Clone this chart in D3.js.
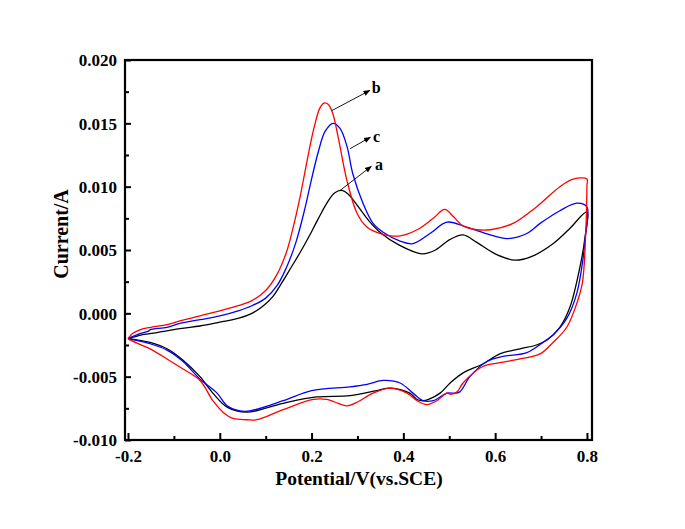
<!DOCTYPE html>
<html><head><meta charset="utf-8">
<script src="https://cdn.jsdelivr.net/npm/d3@7"></script>
<style>
html,body{margin:0;padding:0;background:#fff;}
svg{display:block;}
text{font-family:"Liberation Serif","Times New Roman",serif;font-weight:bold;fill:#000;}
</style></head>
<body>
<svg id="chart" width="685" height="529"></svg>
<script>
// ---- data (Potential V, Current A), traversal order of each CV loop ----
const curveA = [ // black
[-0.2,-0.0020],[-0.17,-0.0017],[-0.152,-0.0016],[-0.087,-0.0012],[-0.043,-0.0010],[0.0,-0.0007],[0.04,-0.0004],[0.07,0.0000],[0.095,0.0006],[0.115,0.0013],[0.135,0.0024],[0.155,0.0036],[0.175,0.0048],[0.195,0.0061],[0.215,0.0075],[0.235,0.0088],[0.25,0.0095],[0.265,0.0097],[0.28,0.0094],[0.3,0.0085],[0.325,0.0073],[0.349,0.0064],[0.39,0.0054],[0.44,0.0047],[0.47,0.0050],[0.5,0.0058],[0.53,0.0062],[0.56,0.0056],[0.6,0.0047],[0.643,0.0042],[0.68,0.0045],[0.726,0.0055],[0.76,0.0066],[0.8,0.0080],
[0.795,0.0058],[0.785,0.0037],[0.763,0.0005],[0.741,-0.0011],[0.713,-0.0021],[0.69,-0.0025],[0.654,-0.0028],[0.61,-0.0032],[0.573,-0.0040],[0.53,-0.0047],[0.502,-0.0055],[0.48,-0.0063],[0.455,-0.0068],[0.443,-0.0069],[0.43,-0.0068],[0.414,-0.0063],[0.371,-0.0059],[0.342,-0.0061],[0.284,-0.0065],[0.211,-0.0066],[0.138,-0.0071],[0.059,-0.0078],[0.016,-0.0074],[-0.015,-0.0063],[-0.043,-0.0050],[-0.08,-0.0037],[-0.115,-0.0028],[-0.152,-0.0023],[-0.2,-0.0020]
];
const curveB = [ // red
[-0.2,-0.0020],[-0.19,-0.0016],[-0.174,-0.0013],[-0.15,-0.0011],[-0.115,-0.0009],[-0.087,-0.0006],[-0.043,-0.0002],[0.0,0.0002],[0.04,0.0006],[0.07,0.0010],[0.1,0.0018],[0.125,0.0031],[0.145,0.0048],[0.16,0.0068],[0.175,0.0092],[0.19,0.0120],[0.205,0.0146],[0.218,0.0162],[0.227,0.0166],[0.236,0.0165],[0.246,0.0158],[0.258,0.0139],[0.277,0.0105],[0.299,0.0079],[0.321,0.0068],[0.35,0.0063],[0.39,0.0061],[0.43,0.0066],[0.465,0.0075],[0.49,0.0082],[0.51,0.0076],[0.53,0.0069],[0.56,0.0066],[0.59,0.0066],[0.639,0.0071],[0.69,0.0084],[0.741,0.0100],[0.77,0.0106],[0.8,0.0106],
[0.8,0.0101],[0.797,0.0060],[0.79,0.0024],[0.778,0.0008],[0.756,-0.0011],[0.726,-0.0023],[0.698,-0.0032],[0.654,-0.0036],[0.61,-0.0039],[0.573,-0.0042],[0.53,-0.0055],[0.517,-0.0062],[0.503,-0.0064],[0.495,-0.0063],[0.473,-0.0069],[0.451,-0.0072],[0.43,-0.0069],[0.408,-0.0063],[0.371,-0.0059],[0.334,-0.0063],[0.30,-0.0070],[0.277,-0.0073],[0.25,-0.0070],[0.233,-0.0068],[0.204,-0.0068],[0.138,-0.0076],[0.081,-0.0084],[0.059,-0.0084],[0.029,-0.0083],[0.007,-0.0078],[-0.015,-0.0069],[-0.043,-0.0053],[-0.08,-0.0044],[-0.115,-0.0036],[-0.152,-0.0028],[-0.19,-0.0022],[-0.2,-0.0020]
];
const curveC = [ // blue
[-0.2,-0.0020],[-0.174,-0.0016],[-0.155,-0.0014],[-0.152,-0.0013],[-0.115,-0.0011],[-0.087,-0.0008],[-0.043,-0.0005],[0.0,-0.0002],[0.04,0.0002],[0.07,0.0006],[0.1,0.0012],[0.125,0.0022],[0.145,0.0036],[0.165,0.0055],[0.185,0.0082],[0.2,0.0106],[0.215,0.0128],[0.23,0.0144],[0.247,0.0150],[0.262,0.0146],[0.277,0.0132],[0.29,0.0110],[0.312,0.0087],[0.334,0.0071],[0.356,0.0064],[0.393,0.0057],[0.421,0.0055],[0.458,0.0063],[0.495,0.0072],[0.538,0.0068],[0.589,0.0062],[0.626,0.0059],[0.669,0.0063],[0.698,0.0071],[0.741,0.0081],[0.778,0.0087],[0.8,0.0084],
[0.797,0.0063],[0.791,0.0042],[0.778,0.0016],[0.756,-0.0004],[0.726,-0.0017],[0.704,-0.0023],[0.669,-0.0031],[0.617,-0.0034],[0.582,-0.0038],[0.545,-0.0050],[0.523,-0.0062],[0.51,-0.0063],[0.495,-0.0063],[0.465,-0.0069],[0.443,-0.0069],[0.421,-0.0063],[0.393,-0.0055],[0.356,-0.0053],[0.321,-0.0056],[0.284,-0.0058],[0.2,-0.0061],[0.138,-0.0069],[0.066,-0.0077],[0.044,-0.0077],[0.016,-0.0073],[-0.006,-0.0063],[-0.043,-0.0052],[-0.08,-0.0038],[-0.115,-0.0029],[-0.152,-0.0024],[-0.2,-0.0020]
];
const seriesNames = ["a","b","c"];
const seriesColors = ["#000000","#ff0000","#0000ff"];
const xTicks = [-0.2,0.0,0.2,0.4,0.6,0.8];
const xTickLabels = ["-0.2","0.0","0.2","0.4","0.6","0.8"];
const yTicks = [-0.010,-0.005,0.000,0.005,0.010,0.015,0.020];
const yTickLabels = ["-0.010","-0.005","0.000","0.005","0.010","0.015","0.020"];
const xMinorTicks = [-0.1,0.1,0.3,0.5,0.7];
const yMinorTicks = [-0.0075,-0.0025,0.0025,0.0075,0.0125,0.0175];
const xTitle = "Potential/V(vs.SCE)";
const yTitle = "Current/A";
// annotation arrows: [fromV, fromI, toV, toI], label anchor [V, I]
const arrowFrom = {a:[0.262,0.0097], b:[0.244,0.0160], c:[0.284,0.0130]};
const arrowTo   = {a:[0.330,0.0116], b:[0.327,0.0176], c:[0.328,0.0139]};
const labelAt   = {a:[0.338,0.0113], b:[0.331,0.0174], c:[0.334,0.0135]};

// ---- layout ----
const L=125, R=592, T=60, B=440;
const svg = d3.select("#chart");
const x = d3.scaleLinear().domain([-0.2065,0.811]).range([L,R]);
const y = d3.scaleLinear().domain([-0.010,0.020]).range([B,T]);

svg.append("defs").append("marker").attr("id","ah").attr("viewBox","0 0 10 10")
  .attr("refX",9).attr("refY",5).attr("markerWidth",7).attr("markerHeight",7)
  .attr("markerUnits","userSpaceOnUse").attr("orient","auto")
  .append("path").attr("d","M0,1 L10,5 L0,9 Z").attr("fill","#000");

// curves
const line = d3.line().x(d=>x(d[0])).y(d=>y(d[1])).curve(d3.curveCatmullRom.alpha(0.5));
const curves = [curveA, curveB, curveC];
[0,2,1].forEach(i=>{
  svg.append("path").datum(curves[i]).attr("d",line)
    .attr("fill","none").attr("stroke",seriesColors[i]).attr("stroke-width",1.3)
    .attr("stroke-linejoin","round");
});

// axes
const fmtX = (d)=>xTickLabels[xTicks.indexOf(d)];
const fmtY = (d)=>yTickLabels[yTicks.indexOf(d)];
const gx = svg.append("g").attr("transform",`translate(0,${B})`)
  .call(d3.axisBottom(x).tickValues(xTicks).tickFormat(fmtX).tickSizeInner(-7).tickSizeOuter(0).tickPadding(10));
const gxm = svg.append("g").attr("transform",`translate(0,${B})`)
  .call(d3.axisBottom(x).tickValues(xMinorTicks).tickFormat("").tickSizeInner(-4).tickSizeOuter(0));
const gy = svg.append("g").attr("transform",`translate(${L},0)`)
  .call(d3.axisLeft(y).tickValues(yTicks).tickFormat(fmtY).tickSizeInner(-6).tickSizeOuter(0).tickPadding(8));
const gym = svg.append("g").attr("transform",`translate(${L},0)`)
  .call(d3.axisLeft(y).tickValues(yMinorTicks).tickFormat("").tickSizeInner(-4).tickSizeOuter(0));
[gx,gxm,gy,gym].forEach(g=>{
  g.select(".domain").remove();
  g.selectAll(".tick line").attr("stroke","#000").attr("stroke-width",2);
  g.selectAll("text").attr("font-family",'"Liberation Serif",serif').attr("font-weight","bold").attr("font-size",17).attr("fill","#000");
});
gy.selectAll("text").attr("dy","0.35em");
gx.selectAll("text").attr("dy","0.71em");

// frame
svg.append("rect").attr("x",L).attr("y",T).attr("width",R-L).attr("height",B-T)
  .attr("fill","none").attr("stroke","#000").attr("stroke-width",2.2);

// titles
svg.append("text").attr("x",359).attr("y",485).attr("text-anchor","middle")
  .attr("font-size",19.5).text(xTitle);
svg.append("text").attr("transform","translate(68,234) rotate(-90)").attr("text-anchor","middle")
  .attr("font-size",20).text(yTitle);

// annotations
seriesNames.forEach(n=>{
  const f=arrowFrom[n], t=arrowTo[n], l=labelAt[n];
  svg.append("line").attr("x1",x(f[0])).attr("y1",y(f[1])).attr("x2",x(t[0])).attr("y2",y(t[1]))
    .attr("stroke","#000").attr("stroke-width",0.9).attr("marker-end","url(#ah)");
  svg.append("text").attr("x",x(l[0])).attr("y",y(l[1])).attr("font-size",16).text(n);
});
</script>
</body></html>
